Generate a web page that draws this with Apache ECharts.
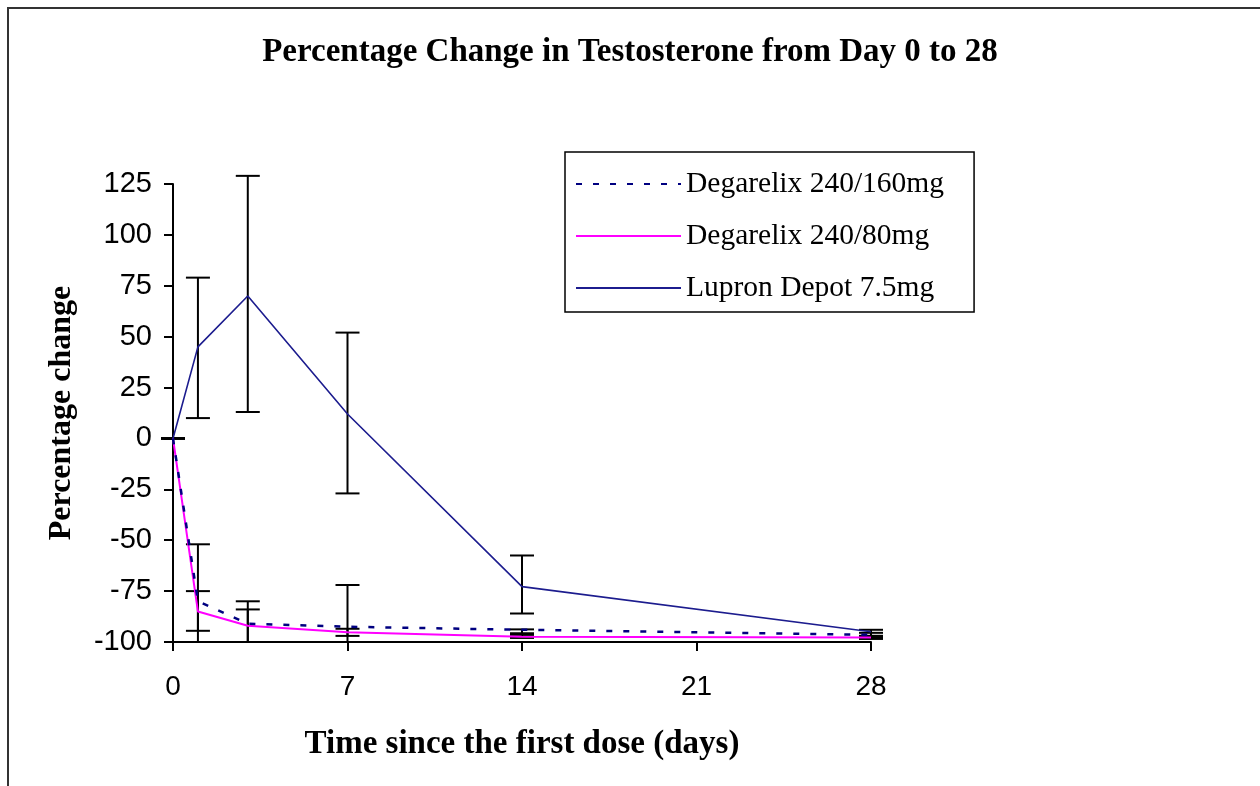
<!DOCTYPE html>
<html>
<head>
<meta charset="utf-8">
<title>Percentage Change in Testosterone</title>
<script src="https://cdn.jsdelivr.net/npm/echarts@6/dist/echarts.min.js"></script>
<style>
  html, body { margin: 0; padding: 0; background: #fff; }
  #chart { width: 1260px; height: 786px; }
</style>
</head>
<body>
<div id="chart"></div>
<script>
// days of measurement
const days = [0, 1, 3, 7, 14, 28];
const xTicks = [0, 7, 14, 21, 28];

// mean percentage change
const deg160 = [0, -80, -91, -92.5, -94, -96.5];
const deg80 = [0, -85, -92, -95.2, -97.4, -97.8];
const lupron = [0, 45, 70, 12, -72.8, -95];

// error bars: [low, high] per day
const deg160Err = [[0, 0], [-100, -52], [-100, -80], [-100, -72], [-95.7, -93.8], [-97, -95.5]];
const deg80Err = [[0, 0], [-94.5, -75], [-100, -84], [-97, -93.5], [-98, -96.5], [-98.5, -97]];
const lupronErr = [[0, 0], [10, 79], [13, 129], [-27, 52], [-86, -57.5], [-98, -94]];

const seriesNames = ['Degarelix 240/160mg', 'Degarelix 240/80mg', 'Lupron Depot 7.5mg'];

function toPoints(vals) {
  return days.map((d, i) => [d, vals[i]]);
}
function toErr(errs) {
  return days.map((d, i) => [d, errs[i][0], errs[i][1]]);
}

// draws a vertical whisker with caps
function renderErr(params, api) {
  const lo = api.coord([api.value(0), api.value(1)]);
  const hi = api.coord([api.value(0), api.value(2)]);
  const half = 12;
  const style = { stroke: '#000', lineWidth: 2 };
  return {
    type: 'group',
    children: [
      { type: 'line', shape: { x1: lo[0], y1: lo[1], x2: hi[0], y2: hi[1] }, style: style },
      { type: 'line', shape: { x1: lo[0] - half, y1: lo[1], x2: lo[0] + half, y2: lo[1] }, style: style },
      { type: 'line', shape: { x1: hi[0] - half, y1: hi[1], x2: hi[0] + half, y2: hi[1] }, style: style }
    ]
  };
}

const chart = echarts.init(document.getElementById('chart'), null, { renderer: 'canvas' });

const serif = '"Liberation Serif", "Times New Roman", serif';
const sans = '"Liberation Sans", Arial, sans-serif';

const option = {
  animation: false,
  backgroundColor: '#fff',
  title: {
    text: 'Percentage Change in Testosterone from Day 0 to 28',
    left: 'center',
    top: 31,
    textStyle: { fontFamily: serif, fontWeight: 'bold', fontSize: 33, color: '#000' }
  },
  graphic: [
    {
      type: 'rect',
      shape: { x: 8, y: 8, width: 1300, height: 900 },
      style: { fill: 'none', stroke: '#333', lineWidth: 2 },
      silent: true
    }
  ],
  legend: {
    orient: 'vertical',
    left: 565,
    top: 152,
    padding: [17, 30, 9, 10],
    itemGap: 22,
    itemWidth: 105,
    itemHeight: 14,
    borderColor: '#000',
    borderWidth: 1.5,
    itemStyle: { opacity: 0 },
    data: seriesNames,
    textStyle: { fontFamily: serif, fontSize: 29.5, lineHeight: 28, color: '#000', padding: [0, 0, 0, 0] }
  },
  grid: { left: 173, right: 389, top: 184, bottom: 144 },
  xAxis: {
    type: 'value',
    min: 0,
    max: 28,
    interval: 7,
    name: 'Time since the first dose (days)',
    nameLocation: 'middle',
    nameGap: 86,
    nameTextStyle: { fontFamily: serif, fontWeight: 'bold', fontSize: 33, color: '#000' },
    axisLine: { onZero: false, lineStyle: { color: '#000', width: 2 } },
    axisTick: { show: true, length: 9, lineStyle: { color: '#000', width: 2 } },
    axisLabel: {
      margin: 31,
      fontFamily: sans,
      fontSize: 28,
      color: '#000',
      formatter: v => (xTicks.indexOf(v) >= 0 ? String(v) : '')
    },
    splitLine: { show: false }
  },
  yAxis: {
    type: 'value',
    min: -100,
    max: 125,
    interval: 25,
    name: 'Percentage change',
    nameLocation: 'middle',
    nameGap: 95,
    nameTextStyle: { fontFamily: serif, fontWeight: 'bold', fontSize: 32, color: '#000' },
    axisLine: { show: true, lineStyle: { color: '#000', width: 2 } },
    axisTick: { show: true, length: 9, lineStyle: { color: '#000', width: 2 } },
    axisLabel: { margin: 21, fontFamily: sans, fontSize: 29, color: '#000' },
    splitLine: { show: false }
  },
  series: [
    {
      name: seriesNames[0],
      type: 'line',
      symbol: 'none',
      data: toPoints(deg160),
      lineStyle: { color: '#000080', width: 2.5, type: [6, 11] },
      itemStyle: { color: '#000080' },
      z: 3
    },
    {
      name: seriesNames[1],
      type: 'line',
      symbol: 'none',
      data: toPoints(deg80),
      lineStyle: { color: '#ff00ff', width: 2 },
      itemStyle: { color: '#ff00ff' },
      z: 2
    },
    {
      name: seriesNames[2],
      type: 'line',
      symbol: 'none',
      data: toPoints(lupron),
      lineStyle: { color: '#1c1c8e', width: 1.6 },
      itemStyle: { color: '#1c1c8e' },
      z: 2
    },
    { type: 'custom', renderItem: renderErr, data: toErr(deg160Err), z: 1 },
    { type: 'custom', renderItem: renderErr, data: toErr(deg80Err), z: 1 },
    { type: 'custom', renderItem: renderErr, data: toErr(lupronErr), z: 1 }
  ]
};

chart.setOption(option);
</script>
</body>
</html>
